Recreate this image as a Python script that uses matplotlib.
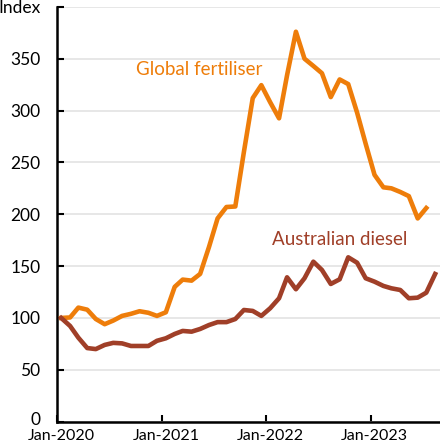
import numpy as np
import pandas as pd
import matplotlib
matplotlib.use("Agg")
import matplotlib.pyplot as plt
import matplotlib.transforms as mtransforms

plt.rcParams['font.family'] = ['Lato', 'DejaVu Sans']

# monthly index, Jan-2020 = 100
fertiliser = [100, 100.5, 110, 108, 99, 94, 97.5, 102, 104, 106.5, 105, 102,
              105.5, 130, 137, 136, 142.5, 168.5, 196, 207, 207.5, 260, 312, 324.5,
              308, 292.5, 334, 376, 350, 343, 336, 313, 330, 325.5, 298, 268,
              238, 226, 225, 221.5, 217.5, 196, 206]
diesel = [100, 92.3, 81, 71, 70, 74, 76, 75.5, 73, 73, 73, 78,
          80.4, 84.6, 87.5, 86.8, 89.4, 93.2, 96, 96, 99, 107.7, 106.8, 102,
          109.4, 119, 139.2, 127.7, 138.3, 154.3, 146.3, 132.8, 137.3, 158.5, 153.3, 138.3,
          135, 130.9, 128.6, 127, 119, 119.6, 124.4, 142.4]
tick_years = ["2020", "2021", "2022", "2023"]

orange = '#EE7D0A'
brown = '#A03F28'

# monthly observations plotted mid-month
dates_d = pd.date_range("2020-01-01", periods=len(diesel), freq="MS") + pd.Timedelta(days=14)
dates_f = dates_d[:len(fertiliser)]

fig = plt.figure(figsize=(4.4, 4.45), dpi=100)
ax = fig.add_axes([0.130, 0.0524, 0.870, 0.9322])

ax.plot(dates_f, fertiliser, color=orange, lw=3.3, solid_joinstyle='round', zorder=3)
ax.plot(dates_d, diesel, color=brown, lw=3.3, solid_joinstyle='round', zorder=3)

ax.set_ylim(0, 400)
ax.set_xlim(pd.Timestamp("2020-01-01"), pd.Timestamp("2023-09-01"))
ax.set_yticks(np.arange(0, 401, 50))
ax.set_yticklabels(["0", "50", "100", "150", "200", "250", "300", "350", ""])
ticks = [pd.Timestamp(y + "-01-01") for y in tick_years]
ax.set_xticks(ticks)
ax.set_xticklabels(["Jan-" + y for y in tick_years])

ax.grid(axis='y', color='#e3e3e3', lw=1.2, zorder=0)
for s in ['top', 'right']:
    ax.spines[s].set_visible(False)
for s in ['left', 'bottom']:
    ax.spines[s].set_linewidth(1.8)
    ax.spines[s].set_color('black')
ax.tick_params(axis='y', direction='in', length=5, width=1.5, pad=12, labelsize=12.5, colors='black')
ax.tick_params(axis='x', direction='in', length=5, width=1.5, pad=5.5, labelsize=11.5, colors='black')
shift = mtransforms.ScaledTranslation(4 / 100, 0, fig.dpi_scale_trans)
for lab in ax.get_xticklabels():
    lab.set_transform(lab.get_transform() + shift)
# nudge the "0" up a touch so it clears the first date label
zero = ax.get_yticklabels()[0]
zero.set_transform(zero.get_transform() + mtransforms.ScaledTranslation(0, 3 / 100, fig.dpi_scale_trans))

fig.text(41 / 440, 1 - 8 / 445, "Index", ha='right', va='center', fontsize=12.5)
ax.text(0.370, 0.848, "Global fertiliser", transform=ax.transAxes, color=orange,
        ha='center', va='center', fontsize=13.5)
ax.text(0.737, 0.440, "Australian diesel", transform=ax.transAxes, color=brown,
        ha='center', va='center', fontsize=13.5)

fig.savefig("out.png", dpi=100)
